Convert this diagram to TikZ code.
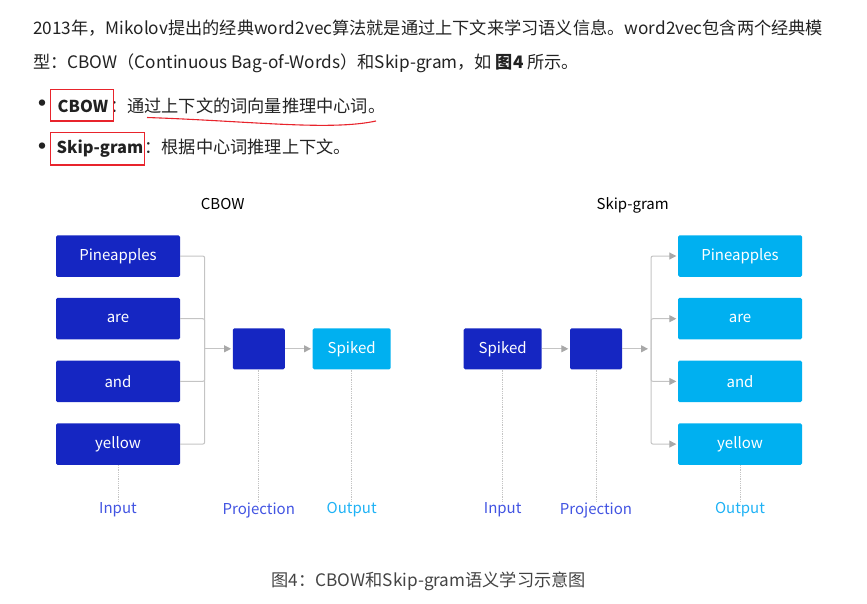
\documentclass[tikz,border=0pt]{standalone}
\usepackage{fontspec}
\setmainfont{Noto Sans CJK SC}
\usepackage{xcolor}
\usepackage{tikz}
\usetikzlibrary{positioning,arrows.meta}

\definecolor{deepblue}{HTML}{1526C2}
\definecolor{skyblue}{HTML}{00B0F0}
\definecolor{linegray}{HTML}{C4C4C4}
\definecolor{tipgray}{HTML}{A8A8A8}
\definecolor{layerblue}{HTML}{4254E2}
\definecolor{layersky}{HTML}{1FB2F5}
\definecolor{bodytext}{HTML}{222222}
\definecolor{markred}{HTML}{E8242C}

\tikzset{
  word/.style={fill=deepblue, text=white, rounded corners=1.5pt, inner sep=0pt,
    minimum width=124pt, minimum height=41.5pt, font=\fontsize{15}{17}\selectfont},
  outword/.style={word, fill=skyblue},
  hidden/.style={word, minimum width=52pt, minimum height=41pt},
  single/.style={word, minimum width=78pt, minimum height=41pt},
  bus/.style={draw=linegray, line width=1pt, rounded corners=2pt},
  flow/.style={draw=linegray, line width=1pt, -{Triangle[length=7pt,width=7pt,color=tipgray]}, shorten >=1.5pt},
  guide/.style={draw=linegray, line width=0.8pt, densely dotted},
  layer/.style={font=\fontsize{15}{17}\selectfont, inner sep=1pt},
  title/.style={font=\fontsize{15}{17}\selectfont, text=black},
  para/.style={font=\fontsize{17.2}{20}\selectfont, text=bodytext, inner sep=0pt},
  keyword/.style={para, font=\fontsize{16.4}{20}\selectfont\bfseries},
  markbox/.style={draw=markred, line width=1.3pt},
}

\begin{document}
\begin{tikzpicture}[x=1pt, y=-1pt]
\useasboundingbox (0,0) rectangle (867,603);

% text above the figure
\node (line1) [para, anchor=west] at (33,28) {2013年，Mikolov提出的经典word2vec算法就是通过上下文来学习语义信息。word2vec包含两个经典模};
\node (line2) [para, anchor=west] at (33,63) {型：CBOW（Continuous Bag-of-Words）和Skip-gram，如 \textbf{图4} 所示。};
\node (dot1) [para, font=\fontsize{30}{30}\selectfont] at (42.3,107) {•};
\node (kCBOW) [keyword, anchor=west] at (57.5,106) {CBOW};
\node (tCBOW) [para, anchor=base west] at ([xshift=1.5pt]kCBOW.base east) {：通过上下文的词向量推理中心词。};
\node (dot2) [para, font=\fontsize{30}{30}\selectfont] at (42.3,150) {•};
\node (kSkip) [keyword, anchor=west] at (56.5,149) {Skip-gram};
\node (tSkip) [para, anchor=base west] at ([xshift=1pt]kSkip.base east) {：根据中心词推理上下文。};
\draw[markbox] (50.7,89.7) rectangle (113.3,121);
\draw[markbox] (50.7,132.7) rectangle (144.3,165);
\coordinate (ulA) at (147,117.5);
\coordinate (ulB) at (376,121);
\draw[markred, line width=1.1pt] (ulA) .. controls (250,121) and (330,131) .. (ulB);

% CBOW
\node (cTitle) [title] at (222.7,204) {CBOW};
\node (cP) [word] at (118,256) {Pineapples};
\node (cA) [word, below=20.8pt of cP] {are};
\node (cN) [word, below=20.8pt of cA] {and};
\node (cY) [word, below=20.8pt of cN] {yellow};
\node (cProj) [hidden] at (258.8,348.8) {};
\node (cOut) [single, fill=skyblue] at (351.7,348.8) {Spiked};
\coordinate (cBus) at (204.7,348.8);
\foreach \w in {cP,cA,cN,cY}
  \draw[bus] (\w.east) -| (cBus);
\draw[flow] (cBus) -- (cProj);
\draw[flow] (cProj) -- (cOut);
\node (cIn) [layer, text=layerblue] at (118,510) {Input};
\node (cPr) [layer, text=layerblue] at (258.8,510) {Projection};
\node (cOu) [layer, text=layersky] at (351.7,510) {Output};
\draw[guide] (cY) -- (cIn);
\draw[guide] (cProj) -- (cPr);
\draw[guide] (cOut) -- (cOu);

% Skip-gram
\node (sTitle) [title] at (632.7,205) {Skip-gram};
\node (sIn) [single] at (502.7,348.8) {Spiked};
\node (sProj) [hidden] at (596,348.8) {};
\node (sP) [outword] at (740,256) {Pineapples};
\node (sA) [outword, below=20.8pt of sP] {are};
\node (sN) [outword, below=20.8pt of sA] {and};
\node (sY) [outword, below=20.8pt of sN] {yellow};
\coordinate (sBus) at (651,348.8);
\draw[flow] (sIn) -- (sProj);
\draw[flow, shorten >=3pt] (sProj) -- (sBus);
\foreach \w in {sP,sA,sN,sY}
  \draw[flow, rounded corners=2pt] (sBus) |- (\w.west);
\node (sInL) [layer, text=layerblue] at (502.7,510) {Input};
\node (sPrL) [layer, text=layerblue] at (596,510) {Projection};
\node (sOuL) [layer, text=layersky] at (740,510) {Output};
\draw[guide] (sIn) -- (sInL);
\draw[guide] (sProj) -- (sPrL);
\draw[guide] (sY) -- (sOuL);

% caption
\node (caption) [font=\fontsize{17.2}{19}\selectfont, text=bodytext!85] at (428.8,581.7) {图4：CBOW和Skip-gram语义学习示意图};
\end{tikzpicture}
\end{document}
